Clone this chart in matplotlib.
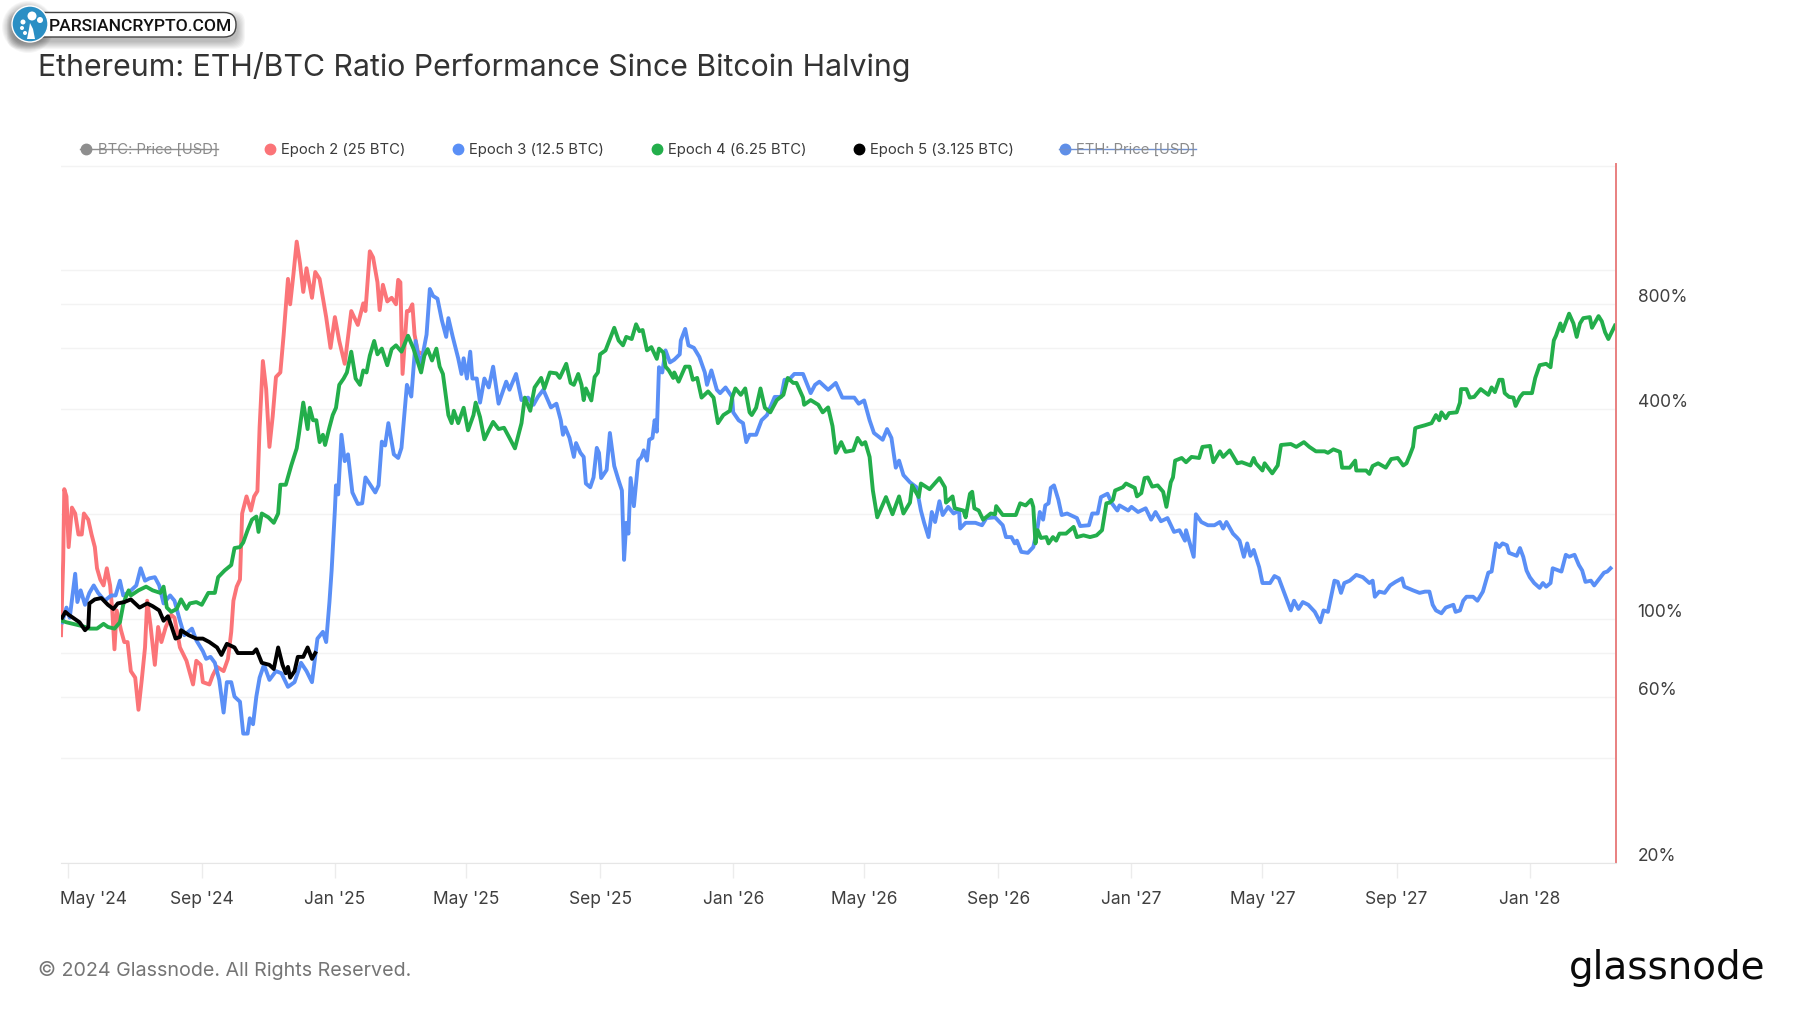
'''
  ETH/BTC ratio performance since each bitcoin halving,
     one curve per epoch on a log axis

  values are percent of the ratio at the halving,
  read by eye from the chart (day count starts on May 1st 2024)
'''

import numpy as np
import matplotlib.pyplot as plt

import matplotlib.gridspec as gridspec
import matplotlib.patches as patches
import matplotlib.ticker as ticker
from matplotlib.transforms import ScaledTranslation

plt.rcParams['font.family'] = ['Inter', 'DejaVu Sans']

# epoch 2 (day, percent)
epoch2=np.array([(-6,90),(-4,147),(-3,236),(-1,225),(1,161),(4,209),(7,201),(10,175),(13,175),(15,201),
(19,193),(22,175),(25,161),(27,140),(30,130),(33,125),(36,140),(39,125),(41,106),(43,82),(45,106),(49,93),
(52,86),(55,86),(58,71),(62,68),(65,55),(68,67),(71,83),(73,113),(76,96),(80,74),(83,95),(86,86),(90,95),
(95,103),(98,101),(103,83),(109,76),(115,65),(118,76),(122,74),(124,66),(130,65),(133,69),(137,73),(143,71),
(147,77),(150,92),(152,113),(155,124),(158,130),(160,201),(164,225),(168,205),(171,225),(174,233),(176,355),
(179,550),(182,457),(185,312),(188,382),(191,495),(195,510),(198,652),(202,946),(204,800),(207,975),(210,1210),
(213,1050),(216,868),(219,1015),(224,835),(227,990),(231,946),(234,835),(237,735),(241,600),(245,735),(249,628),
(254,540),(260,765),(266,698),(271,805),(273,765),(277,1135),(280,1090),(284,925),(286,770),(289,910),(293,815),
(297,835),(301,800),(303,940),(305,925),(307,505),(311,765),(313,765),(316,800),(318,655),(321,585),(326,575)])

# epoch 3 (day, percent)
epoch3=np.array([(-5,98),(-1,108),(2,101),(7,135),(9,112),(12,121),(16,110),(20,119),(24,125),(28,119),(34,113),
(40,117),(44,117),(48,129),(51,117),(57,120),(63,125),(67,140),(71,129),(75,131),(80,132),(84,125),(88,111),
(94,117),(98,113),(103,99),(107,90),(114,94),(118,87),(124,81),(127,77),(131,78),(135,75),(139,67),(143,54),
(146,66),(150,66),(153,60),(158,58),(161,47),(165,47),(167,52),(170,50),(173,60),(176,68),(180,74),(185,67),
(191,71),(196,70),(202,64),(208,66),(214,75),(219,71),(224,66),(229,88),(234,92),(237,86),(240,112),(242,138),
(244,180),(245,206),(246,242),(248,228),(251,338),(254,284),(257,297),(261,231),(266,214),(270,215),(273,255),
(277,244),(282,231),(285,242),(288,323),(291,315),(294,365),(299,297),(303,290),(306,310),(308,365),(311,470),
(315,435),(319,628),(323,530),(326,585),(329,655),(332,885),(335,845),(339,830),(343,720),(347,645),(349,730),
(353,645),(358,560),(361,505),(363,560),(366,490),(369,585),(371,490),(375,490),(378,418),(382,490),(386,462),
(390,530),(395,415),(402,480),(405,455),(411,505),(416,425),(422,432),(427,412),(431,434),(436,455),(443,405),
(448,415),(452,372),(454,338),(456,355),(460,331),(464,292),(466,320),(470,300),(473,292),(475,245),(479,239),
(482,255),(485,310),(487,300),(489,254),(494,268),(497,342),(501,275),(505,250),(508,234),(510,148),(512,189),
(514,176),(516,254),(519,211),(523,285),(526,292),(528,305),(531,285),(533,327),(536,331),(538,372),(540,345),
(542,528),(545,510),(548,590),(552,545),(556,555),(561,575),(562,630),(566,680),(569,610),(574,600),(579,565),
(584,510),(586,470),(590,517),(595,455),(598,445),(603,462),(609,434),(610,392),(615,372),(619,365),(622,322),
(625,338),(631,338),(636,372),(641,385),(645,412),(648,434),(654,434),(657,486),(661,486),(666,505),(674,505),
(678,470),(681,445),(685,470),(689,480),(697,455),(704,476),(710,432),(721,432),(725,415),(730,424),(735,372),
(739,342),(747,327),(751,351),(755,331),(759,272),(762,285),(766,259),(772,247),(778,239),(782,205),(785,189),
(789,172),(792,203),(795,190),(799,218),(802,199),(807,210),(812,201),(817,205),(818,182),(823,189),(832,189),
(838,186),(842,195),(850,196),(857,186),(860,172),(865,172),(868,165),(870,168),(874,156),(880,155),(885,161),
(889,184),(891,203),(894,193),(896,212),(899,215),(901,238),(904,242),(908,220),(911,199),(916,201),(925,195),
(928,185),(936,186),(939,201),(944,201),(947,224),(953,229),(957,215),(962,205),(964,212),(972,205),(975,210),
(981,203),(988,208),(993,193),(997,203),(1002,191),(1008,195),(1014,178),(1019,180),(1024,168),(1025,180),
(1032,151),(1034,200),(1039,190),(1045,186),(1051,186),(1056,190),(1059,182),(1062,190),(1068,176),(1072,171),
(1074,168),(1078,151),(1081,165),(1084,152),(1087,158),(1092,141),(1095,127),(1102,127),(1106,133),(1110,131),
(1115,119),(1121,106),(1124,113),(1128,107),(1132,112),(1137,110),(1143,105),(1148,98),(1151,106),(1155,105),
(1161,129),(1164,128),(1167,119),(1170,127),(1175,129),(1181,134),(1187,132),(1193,127),(1196,129),(1198,116),
(1202,120),(1207,119),(1212,125),(1217,128),(1223,131),(1225,124),(1233,121),(1239,119),(1244,120),(1248,120),
(1251,110),(1254,106),(1259,104),(1263,108),(1270,110),(1272,105),(1276,106),(1279,113),(1282,116),(1288,116),
(1292,113),(1297,120),(1302,136),(1305,137),(1309,165),(1312,161),(1315,165),(1319,163),(1321,155),(1328,152),
(1331,160),(1334,151),(1337,138),(1340,132),(1344,127),(1349,123),(1352,127),(1355,124),(1359,127),(1361,140),
(1369,137),(1373,153),(1376,151),(1381,153),(1385,143),(1388,138),(1391,128),(1396,129),(1399,125),(1404,131),
(1408,136),(1411,137),(1414,140)])

# epoch 4 (day, percent)
epoch4=np.array([(-5,99),(-1,98),(5,97),(11,96),(16,95),(20,94),(27,94),(33,97),(37,95),(43,94),(48,98),(51,110),
(53,115),(56,121),(58,117),(65,121),(72,124),(78,121),(85,119),(88,124),(91,108),(95,105),(100,107),(104,114),
(109,107),(112,111),(118,112),(123,110),(129,119),(135,119),(138,132),(144,138),(150,143),(153,160),(158,161),
(161,166),(165,180),(169,193),(173,197),(175,178),(178,201),(184,196),(189,189),(193,201),(195,243),(200,243),
(205,276),(210,309),(212,339),(216,418),(220,351),(222,404),(225,372),(228,372),(231,322),(234,338),(236,316),
(240,355),(243,385),(246,404),(249,470),(253,490),(256,510),(260,585),(264,490),(268,470),(271,517),(274,510),
(277,570),(281,628),(284,575),(288,597),(293,535),(297,595),(301,610),(306,585),(312,650),(317,597),(320,558),
(324,510),(327,570),(330,595),(334,552),(338,597),(341,530),(344,505),(349,385),(352,365),(354,396),(358,365),
(363,404),(367,348),(372,385),(374,418),(378,380),(382,328),(386,348),(390,368),(395,351),(400,354),(405,331),
(410,309),(416,365),(419,432),(424,396),(428,462),(434,492),(437,459),(442,510),(448,507),(451,492),(457,540),
(461,476),(464,470),(468,505),(471,470),(473,425),(475,459),(480,424),(483,495),(486,510),(488,575),(493,590),
(497,636),(501,685),(505,630),(509,610),(512,645),(517,636),(521,701),(524,670),(527,675),(531,590),(535,603),
(540,558),(542,597),(546,582),(548,530),(551,517),(555,492),(556,510),(560,480),(566,530),(570,530),(573,486),
(577,492),(581,432),(587,450),(592,432),(596,365),(601,385),(607,396),(609,432),(612,459),(617,440),(621,459),
(625,392),(627,385),(631,404),(635,459),(639,404),(644,392),(650,425),(656,440),(660,492),(665,476),(668,476),
(674,432),(675,412),(681,425),(688,412),(692,392),(697,405),(701,358),(704,300),(709,322),(713,302),(720,305),
(724,331),(728,317),(731,322),(735,292),(738,234),(742,196),(750,224),(756,200),(762,225),(766,201),(772,216),
(774,242),(780,224),(782,245),(790,236),(799,254),(804,239),(805,216),(811,225),(813,208),(821,205),(823,196),
(827,229),(829,232),(831,208),(835,205),(839,193),(846,201),(850,200),(851,211),(857,199),(865,199),(869,199),
(873,215),(878,212),(883,220),(885,210),(887,165),(889,180),(892,171),(897,172),(899,165),(903,172),(906,168),
(909,176),(915,176),(922,184),(925,172),(931,174),(937,172),(943,174),(948,180),(952,215),(955,216),(958,220),
(960,234),(967,239),(970,245),(978,238),(980,225),(984,230),(987,254),(990,255),(994,240),(999,242),(1004,232),
(1007,210),(1011,247),(1013,255),(1015,285),(1021,290),(1025,282),(1030,292),(1037,290),(1040,312),(1047,314),
(1050,282),(1056,303),(1059,292),(1065,305),(1072,280),(1076,282),(1084,276),(1087,290),(1089,280),(1095,267),
(1097,280),(1104,262),(1109,276),(1112,316),(1121,318),(1126,312),(1133,322),(1138,312),(1144,303),(1152,303),
(1155,300),(1160,307),(1166,302),(1168,272),(1175,272),(1180,285),(1181,267),(1190,267),(1193,261),(1196,275),
(1201,280),(1208,272),(1213,288),(1219,290),(1224,276),(1227,280),(1230,295),(1233,312),(1235,353),(1237,355),
(1244,360),(1250,365),(1254,385),(1257,372),(1259,392),(1263,377),(1266,390),(1273,392),(1276,418),(1277,457),
(1282,457),(1285,432),(1289,434),(1295,457),(1302,440),(1305,462),(1308,448),(1312,486),(1315,486),(1317,445),
(1321,434),(1325,432),(1327,409),(1331,434),(1334,445),(1342,445),(1345,492),(1349,535),(1355,540),(1359,528),
(1362,630),(1364,650),(1368,705),(1370,670),(1376,752),(1380,705),(1383,645),(1386,705),(1389,730),(1395,735),
(1397,685),(1403,740),(1406,715),(1409,665),(1412,636),(1418,695)])

# epoch 5 (day, percent)
epoch5=np.array([(-5,101),(-2,105),(1,103),(5,101),(11,98),(16,93),(19,95),(20,111),(25,114),(31,115),(37,110),
(42,107),(46,111),(52,112),(58,114),(66,108),(73,111),(78,109),(84,106),(88,99),(92,102),(95,96),(99,88),(103,89),
(104,93),(111,90),(118,88),(124,88),(130,86),(137,83),(141,79),(146,85),(153,83),(156,80),(167,80),(170,80),
(173,82),(178,75),(185,74),(189,72),(193,83),(197,74),(200,70),(202,73),(204,68),(208,71),(211,78),(216,78),
(220,83),(224,77),(227,80)])

series_labels=['Epoch 2 (25 BTC)','Epoch 3 (12.5 BTC)','Epoch 4 (6.25 BTC)','Epoch 5 (3.125 BTC)']
series_colors=['#fb7478','#5a8ff6','#23ae4b','#000000']

month_days=[0,123,245,365,488,610,730,853,975,1095,1218,1340]
month_labels=["May '24","Sep '24","Jan '25","May '25","Sep '25","Jan '26","May '26","Sep '26","Jan '27","May '27","Sep '27","Jan '28"]
pct_levels=[20,40,60,80,100,200,400,600,800,1000,2000]
pct_labels=['20%','','60%','','100%','','400%','','800%','','']

fig=plt.figure(figsize=(18,10.13), dpi=100)
gs1 = gridspec.GridSpec(1, 1)
ax1 = fig.add_subplot(gs1[0])
gs1.update(top=1-164/1013,bottom=1-863/1013, left=61/1800, right=1616/1800)

#-------------------------------------
ax1.plot (epoch2[:,0],epoch2[:,1],'-',color=series_colors[0],lw=2.8,solid_joinstyle='round')
ax1.plot (epoch3[:,0],epoch3[:,1],'-',color=series_colors[1],lw=2.8,solid_joinstyle='round')
ax1.plot (epoch4[:,0],epoch4[:,1],'-',color=series_colors[2],lw=2.8,solid_joinstyle='round')
ax1.plot (epoch5[:,0],epoch5[:,1],'-',color=series_colors[3],lw=2.8,solid_joinstyle='round')
#-------------------------------------

ax1.set_yscale('log')
ax1.set_xlim(-6,1419)
ax1.set_ylim(20,2020)
ax1.yaxis.tick_right()
ax1.yaxis.set_major_locator(ticker.FixedLocator(pct_levels))
ax1.yaxis.set_major_formatter(ticker.FixedFormatter(pct_labels))
ax1.yaxis.set_minor_locator(ticker.NullLocator())
ax1.xaxis.set_major_locator(ticker.FixedLocator(month_days))
ax1.xaxis.set_major_formatter(ticker.FixedFormatter(month_labels))
ax1.tick_params(axis='y',length=0,pad=15.5,labelsize=12.5,labelcolor='#3f3f3f')
ax1.tick_params(axis='x',length=11,width=1,color='#ececec',pad=9,labelsize=12.5,labelcolor='#3f3f3f')
ax1.grid(axis='y',color='#f3f3f3',lw=1)
ax1.set_axisbelow(True)
for s in ['top','left']:
   ax1.spines[s].set_visible(False)
ax1.spines['bottom'].set_color('#e6e6e6')
ax1.spines['right'].set_color('#e98080')
ax1.spines['right'].set_linewidth(1.4)
for lab in ax1.get_yticklabels():
   lab.set_va('bottom')
   lab.set_transform(lab.get_transform()+ScaledTranslation(0,-0.02,fig.dpi_scale_trans))
lab0=ax1.get_xticklabels()[0]
lab0.set_ha('left')
lab0.set_transform(lab0.get_transform()+ScaledTranslation(-0.08,0,fig.dpi_scale_trans))

# overlay in picture pixels for the texts around the chart
ax0=fig.add_axes([0,0,1,1],facecolor='none')
ax0.set_xlim(0,1800)
ax0.set_ylim(1013,0)
ax0.axis('off')

ax0.text(38,67,'Ethereum: ETH/BTC Ratio Performance Since Bitcoin Halving',fontsize=21.8,color='#333333',va='center')
ax0.text(38,970,'© 2024 Glassnode. All Rights Reserved.',fontsize=14.2,color='#757575',va='center')
ax0.text(1569,968,'glassnode',fontsize=28,color='#0a0a0a',va='center',family='DejaVu Sans')

# legend row, the two price series are switched off and struck through
ax0.plot([86],[149],'o',ms=7.5,color='#8e8e8e')
ax0.text(98,149.5,'BTC: Price [USD]',fontsize=10.7,color='#8a8a8a',va='center')
ax0.plot([80,218],[149,149],'-',color='#8e8e8e',lw=1)
for lx,tx,name,col in zip([270,458,657,859],[281,469,668,870],series_labels,series_colors):
   ax0.plot([lx],[149],'o',ms=7.5,color=col)
   ax0.text(tx,149.5,name,fontsize=10.7,color='#3a3a3a',va='center')
ax0.plot([1065],[149],'o',ms=7.5,color='#5f8fe8')
ax0.text(1076,149.5,'ETH: Price [USD]',fontsize=10.7,color='#8a8a8a',va='center')
ax0.plot([1059,1196],[149,149],'-',color='#6f8fd0',lw=1)

# badge top left
for k in range(8):
   ax0.add_patch(patches.FancyBboxPatch((14-k,18-k),224+2*k,24+2*k,boxstyle='round,pad=0,rounding_size=12',fc='#000000',ec='none',alpha=0.035,zorder=3))
   ax0.add_patch(patches.Circle((28,27),19+k,fc='#000000',ec='none',alpha=0.035,zorder=3))
ax0.add_patch(patches.FancyBboxPatch((24,12.5),212,24.5,boxstyle='round,pad=0,rounding_size=12',fc='white',ec='#444444',lw=1,zorder=4))
ax0.text(49,26,'PARSIANCRYPTO.COM',fontsize=12.6,color='#111111',va='center',family='Roboto',weight='medium',zorder=6)
ax0.add_patch(patches.Circle((30,24),18,fc='#2b8fc4',ec='white',lw=1,zorder=5))
ax0.add_patch(patches.Polygon([(27,39),(35,39),(33,29),(30,23),(29,29)],fc='white',ec='none',zorder=6))
for cx,cy,r in [(32,16,4.5),(23,22,2.5),(40,20,3),(22,28,2),(25,33,2)]:
   ax0.add_patch(patches.Circle((cx,cy),r,fc='white',ec='none',zorder=6))

fig.savefig('out.png')
